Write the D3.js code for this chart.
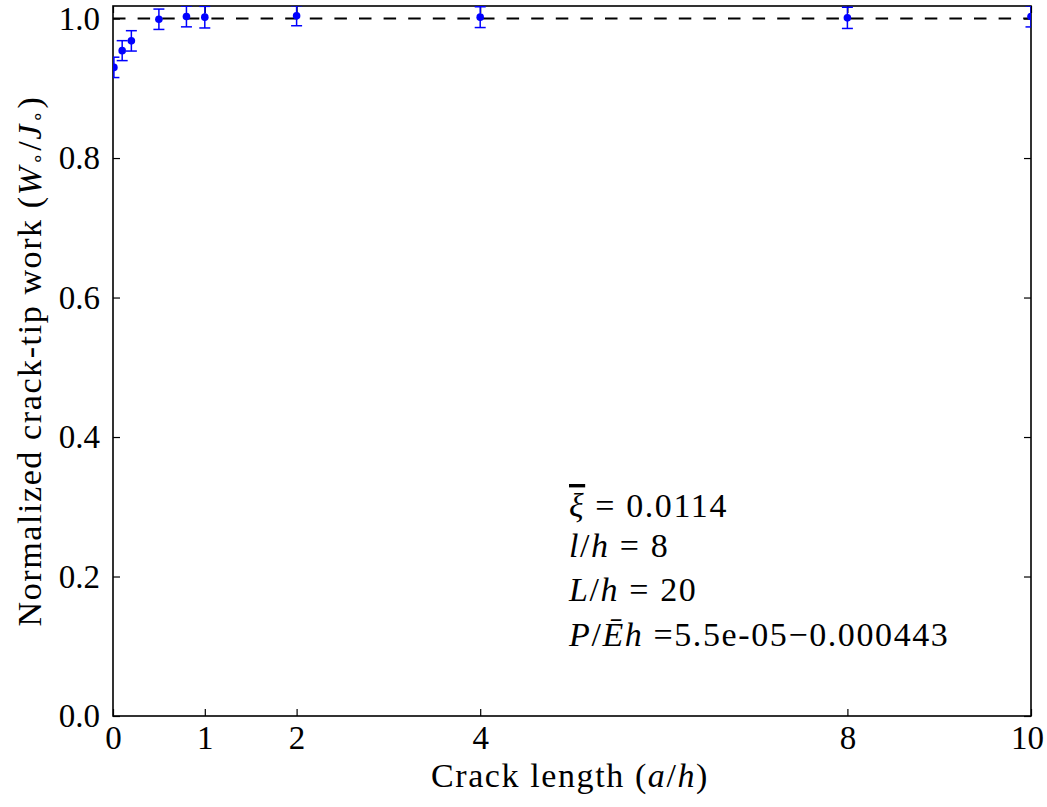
<!DOCTYPE html>
<html>
<head>
<meta charset="utf-8">
<script src="https://cdn.jsdelivr.net/npm/d3@7"></script>
<style>
  body { margin: 0; background: #fff; }
  svg text, svg tspan { font-family: "Liberation Serif", serif !important; fill: #000; }
</style>
</head>
<body>
<div id="chart"></div>
<script>
// ---- data ----
const crackLength = [0.01, 0.1, 0.2, 0.5, 0.8, 1, 2, 4, 8, 10];
const workRatio   = [0.930, 0.954, 0.968, 0.999, 1.003, 1.002, 1.004, 1.002, 1.001, 1.003];
const workErr     = [0.0146, 0.0143, 0.0146, 0.0146, 0.0149, 0.0155, 0.0143, 0.0149, 0.0152, 0.015];
const xTicks = [0, 1, 2, 4, 8, 10];
const yTicks = [0, 0.2, 0.4, 0.6, 0.8, 1.0];
const referenceLevel = 1.0;

// ---- layout ----
const W = 1047, H = 807;
const margin = { top: 6, right: 16, bottom: 91, left: 113 };
const tickFont = 33;
const labelFont = 34;
const spacing = '1.6px';   // Computer Modern runs wider than Times

const svg = d3.select('#chart').append('svg')
    .attr('width', W)
    .attr('height', H);

const x = d3.scaleLinear().domain([0, 10]).range([margin.left, W - margin.right]);
const y = d3.scaleLinear().domain([0, 1.018]).range([H - margin.bottom, margin.top]);

// clip for data marks
svg.append('clipPath').attr('id', 'plot-clip')
    .append('rect')
    .attr('x', x(0)).attr('y', y(1.018))
    .attr('width', x(10) - x(0)).attr('height', y(0) - y(1.018));

// ---- axes (ticks pointing inward on all four sides) ----
const tickLen = 7;

svg.append('g')
    .attr('transform', `translate(0,${y(0)})`)
    .call(d3.axisBottom(x).tickValues(xTicks).tickSizeInner(-tickLen).tickSizeOuter(0).tickPadding(10).tickFormat(d3.format('d')))
    .selectAll('.tick text')
    .attr('dx', d => d === 10 ? -4 : 0);
svg.append('g')
    .attr('transform', `translate(${x(0)},0)`)
    .call(d3.axisLeft(y).tickValues(yTicks).tickSizeInner(-tickLen).tickSizeOuter(0).tickPadding(13).tickFormat(d3.format('.1f')));
svg.append('g')
    .attr('transform', `translate(0,${y(1.018)})`)
    .call(d3.axisTop(x).tickValues(xTicks).tickSizeInner(-tickLen).tickSizeOuter(0).tickFormat(''));
svg.append('g')
    .attr('transform', `translate(${x(10)},0)`)
    .call(d3.axisRight(y).tickValues(yTicks).tickSizeInner(-tickLen).tickSizeOuter(0).tickFormat(''));

svg.selectAll('.domain').remove();
svg.selectAll('.tick line').attr('stroke', '#000').attr('stroke-width', 1.2);
svg.selectAll('.tick text')
    .style('font-size', tickFont + 'px')
    .attr('fill', '#000');

// frame
svg.append('rect')
    .attr('x', x(0)).attr('y', y(1.018))
    .attr('width', x(10) - x(0)).attr('height', y(0) - y(1.018))
    .attr('fill', 'none')
    .attr('stroke', '#000')
    .attr('stroke-width', 1.6);

// ---- dashed reference line at 1.0 ----
svg.append('line')
    .attr('x1', x(0)).attr('x2', x(10))
    .attr('y1', y(referenceLevel)).attr('y2', y(referenceLevel))
    .attr('stroke', '#000')
    .attr('stroke-width', 2)
    .attr('stroke-dasharray', '12.5,12.1');

// ---- error bars + markers ----
const points = crackLength.map((a, i) => ({ a, w: workRatio[i], e: workErr[i] }));
const marks = svg.append('g').attr('clip-path', 'url(#plot-clip)');
const cap = 5.5;
const blue = '#0000ff';

const eb = marks.selectAll('g.eb').data(points).join('g').attr('class', 'eb');
eb.append('line')
    .attr('x1', d => x(d.a)).attr('x2', d => x(d.a))
    .attr('y1', d => y(d.w - d.e)).attr('y2', d => y(d.w + d.e))
    .attr('stroke', blue).attr('stroke-width', 1.5);
eb.append('line')
    .attr('x1', d => x(d.a) - cap).attr('x2', d => x(d.a) + cap)
    .attr('y1', d => y(d.w + d.e)).attr('y2', d => y(d.w + d.e))
    .attr('stroke', blue).attr('stroke-width', 1.5);
eb.append('line')
    .attr('x1', d => x(d.a) - cap).attr('x2', d => x(d.a) + cap)
    .attr('y1', d => y(d.w - d.e)).attr('y2', d => y(d.w - d.e))
    .attr('stroke', blue).attr('stroke-width', 1.5);
eb.append('circle')
    .attr('cx', d => x(d.a)).attr('cy', d => y(d.w))
    .attr('r', 3.8)
    .attr('fill', blue);

// helper: a text line built from [string, italic?] pieces
function richText(parent, pieces) {
    const t = parent.append('text')
        .style('font-size', labelFont + 'px')
        .style('letter-spacing', spacing);
    pieces.forEach(([s, it, extra]) => {
        const ts = t.append('tspan').text(s);
        if (it) ts.style('font-style', 'italic');
        if (extra) extra(ts);
    });
    return t;
}
const ring = ts => ts.attr('baseline-shift', '-20%').style('font-size', '20px');

// ---- axis labels ----
richText(svg, [['Crack length ('], ['a', true], ['/'], ['h', true], [')']])
    .attr('x', (x(0) + x(10)) / 2 - 2)
    .attr('y', 787)
    .attr('text-anchor', 'middle');

richText(svg, [['Normalized crack-tip work ('], ['W', true], ['\u2218', false, ring], ['/'],
               ['J', true], ['\u2218', false, ring], [')']])
    .attr('transform', `translate(41,${(y(0) + y(1.018)) / 2}) rotate(-90)`)
    .attr('text-anchor', 'middle');

// ---- annotation block ----
const annX = 569;
const ann = svg.append('g');
richText(ann, [['\u03BE', true, ts => ts.style('text-decoration', 'overline')], [' = 0.0114']])
    .attr('x', annX).attr('y', 517);
richText(ann, [['l', true], ['/'], ['h', true], [' = 8']])
    .attr('x', annX).attr('y', 557);
richText(ann, [['L', true], ['/'], ['h', true], [' = 20']])
    .attr('x', annX).attr('y', 601);
richText(ann, [['P', true], ['/'], ['\u0112h', true], [' =5.5e-05\u22120.000443']])
    .attr('x', annX).attr('y', 646);
</script>
</body>
</html>
